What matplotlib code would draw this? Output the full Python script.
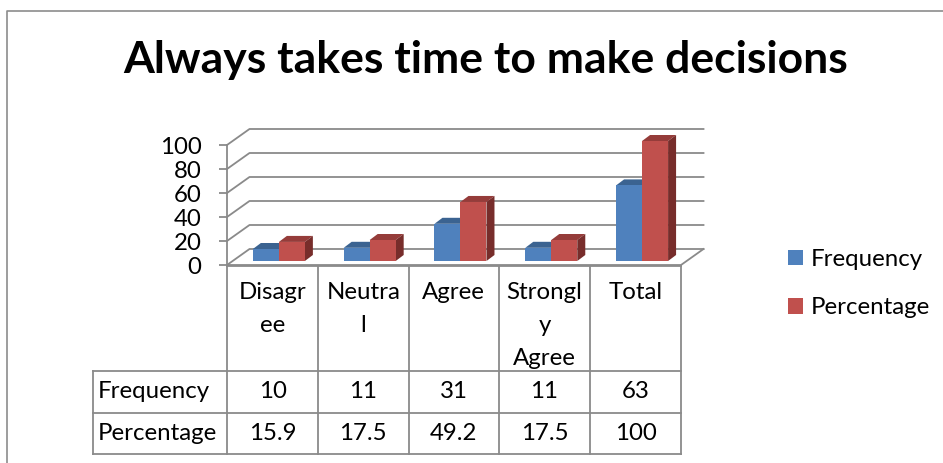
import numpy as np
import matplotlib
matplotlib.use('Agg')
import matplotlib.pyplot as plt
from matplotlib.patches import Polygon

plt.rcParams['font.family'] = ['Lato', 'DejaVu Sans']

title = 'Always takes time to make decisions'
categories = ['Disagr\nee', 'Neutra\nl', 'Agree', 'Strongl\ny\nAgree', 'Total']
frequency = [10, 11, 31, 11, 63]
percentage = [15.9, 17.5, 49.2, 17.5, 100]
percentage_labels = ['15.9', '17.5', '49.2', '17.5', '100']
series_names = ['Frequency', 'Percentage']
y_ticks = [0, 20, 40, 60, 80, 100]

W, H = 943, 463
GREY = '#8a8a8a'
FS = 17.3

fig = plt.figure(figsize=(W / 100, H / 100), dpi=100, facecolor='white')

# pixel axes for the outer frame, title and table
bg = fig.add_axes([0, 0, 1, 1])
bg.set_xlim(0, W)
bg.set_ylim(H, 0)
bg.axis('off')
bg.plot([6.5, 6.5, W], [H, 10.5, 10.5], color='#8c8c8c', lw=1.2)
bg.text(485.5, 60.5, title, ha='center', va='center', fontsize=32, fontweight='bold', color='black')

# chart axes: x in categories, y in values, lined up on the front plane
ax = fig.add_axes([227 / W, (H - 265) / H, 454 / W, 120 / H])
ax.set_xlim(0, 5)
ax.set_ylim(0, 100)
ax.patch.set_alpha(0)
for s in ['top', 'right', 'bottom']:
    ax.spines[s].set_visible(False)
ax.spines['left'].set_color(GREY)
ax.spines['left'].set_linewidth(1.3)
ax.set_xticks([])
ax.set_yticks(y_ticks)
ax.tick_params(axis='y', length=6, width=1.3, color=GREY, labelsize=FS, pad=12.5, labelcolor='black')

# fake 3d walls
wall_dx = 22.5 / 90.8
wall_dy = 16 / 1.2
for v in y_ticks:
    ax.plot([0, wall_dx, 5 + wall_dx], [v, v + wall_dy, v + wall_dy], color=GREY, lw=1.3, clip_on=False, zorder=1)
ax.plot([0, 5, 5 + wall_dx], [0, 0, wall_dy], color=GREY, lw=1.3, clip_on=False, zorder=1)


def bars_3d(x, values, front, top, side, label):
    width = 26 / 90.8
    dx = 8 / 90.8
    dy = 6 / 1.2
    lift = 4 / 1.2
    bars = ax.bar(x, values, width, bottom=lift, align='edge', color=front, label=label, clip_on=False, zorder=3)
    for xi, v in zip(x, values):
        y1 = v + lift
        ax.add_patch(Polygon([(xi, y1), (xi + dx, y1 + dy), (xi + width + dx, y1 + dy), (xi + width, y1)],
                             facecolor=top, edgecolor='none', clip_on=False, zorder=2.5))
        ax.add_patch(Polygon([(xi + width, lift), (xi + width + dx, lift + dy), (xi + width + dx, y1 + dy), (xi + width, y1)],
                             facecolor=side, edgecolor='none', clip_on=False, zorder=2.5))
    return bars


pos = np.arange(len(categories))
bars_3d(pos + 0.285, frequency, '#4F81BD', '#3B6391', '#2F4F75', series_names[0])
bars_3d(pos + 0.285 + 26 / 90.8, percentage, '#C0504D', '#953C3A', '#772D2B', series_names[1])

ax.legend(loc='upper left', bbox_to_anchor=(788 / W, 1 - 249 / H), bbox_transform=fig.transFigure,
          frameon=False, fontsize=FS, borderpad=0, borderaxespad=0, labelspacing=1.13,
          handlelength=0.63, handleheight=0.63, handletextpad=0.32)

# data table under the chart
col_x = [227, 318, 408.5, 499, 590, 681]
row_y = [266, 371, 413, 454]
for x in col_x:
    bg.plot([x, x], [row_y[0], row_y[-1]], color=GREY, lw=1.3)
bg.plot([93, 93], [row_y[1], row_y[-1]], color=GREY, lw=1.3)
bg.plot([227, 681], [row_y[0], row_y[0]], color=GREY, lw=1.3)
for y in row_y[1:]:
    bg.plot([93, 681], [y, y], color=GREY, lw=1.3)

for i, name in enumerate(categories):
    xc = (col_x[i] + col_x[i + 1]) / 2
    bg.text(xc, 282, name, ha='center', va='top', fontsize=FS, linespacing=1.7, color='black')
    bg.text(xc, 392, str(frequency[i]), ha='center', va='center', fontsize=FS, color='black')
    bg.text(xc, 433, percentage_labels[i], ha='center', va='center', fontsize=FS, color='black')
bg.text(98, 391, series_names[0], ha='left', va='center', fontsize=FS, color='black')
bg.text(98, 433, series_names[1], ha='left', va='center', fontsize=FS, color='black')

fig.savefig('out.png', dpi=100)
